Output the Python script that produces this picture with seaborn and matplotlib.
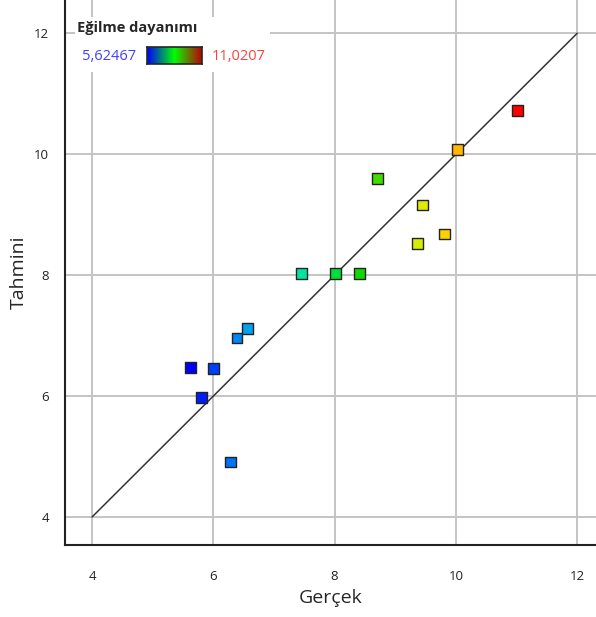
import numpy as np
import pandas as pd
import seaborn as sns
import matplotlib.pyplot as plt
from matplotlib.colors import LinearSegmentedColormap

gercek = [5.62, 6.00, 5.81, 6.28, 6.39, 6.56, 7.45, 8.01, 8.41, 8.70, 9.45, 9.36, 9.81, 10.02, 11.02]
tahmini = [6.48, 6.46, 5.98, 4.91, 6.96, 7.11, 8.03, 8.03, 8.03, 9.60, 9.16, 8.53, 8.68, 10.08, 10.73]
ticks = [4, 6, 8, 10, 12]
vmin, vmax = 5.62467, 11.0207

df = pd.DataFrame({'Gerçek': gercek, 'Tahmini': tahmini})

cmap = LinearSegmentedColormap.from_list('de', [
    (0.0, '#0000ff'), (0.17, '#00a0f0'), (0.34, '#00e6a0'), (0.5, '#00d800'),
    (0.6, '#60e000'), (0.7, '#dcee00'), (0.8, '#ffc800'), (1.0, '#ff0000')])

sns.set_style('white')
plt.rcParams['font.family'] = ['Open Sans', 'DejaVu Sans']

fig = plt.figure(figsize=(5.96, 6.17), dpi=100)
ax = fig.add_axes([65 / 596, 72 / 617, 531 / 596, 545 / 617])

ax.grid(True, color='#c4c4c4', linewidth=1.4)
ax.set_axisbelow(True)
ax.plot([4, 12], [4, 12], color='#333333', linewidth=1.1, zorder=2)
sns.scatterplot(data=df, x='Gerçek', y='Tahmini', hue='Gerçek', palette=cmap,
                hue_norm=(vmin, vmax), marker='s', s=62, edgecolor='#222222',
                linewidth=1, legend=False, ax=ax, zorder=3)

ax.set_xlim(3.554, 12.31)
ax.set_ylim(3.537, 12.55)
ax.set_xticks(ticks)
ax.set_yticks(ticks)
ax.tick_params(direction='out', length=8, width=1.2, labelsize=9.5, colors='#222222')
ax.tick_params(axis='x', pad=10)
for side in ['top', 'right']:
    ax.spines[side].set_visible(False)
for side in ['left', 'bottom']:
    ax.spines[side].set_linewidth(1.5)
    ax.spines[side].set_color('#222222')
ax.set_xlabel('Gerçek', fontsize=14)
ax.set_ylabel('Tahmini', fontsize=14)

# colour legend box
box = fig.add_axes([75 / 596, 1 - 72 / 617, 195 / 596, 55 / 617])
box.set_facecolor('white')
box.set_xticks([])
box.set_yticks([])
for sp in box.spines.values():
    sp.set_visible(False)
box.set_zorder(5)
fig.text(77 / 596, 1 - 28 / 617, 'Eğilme dayanımı', fontsize=10.5, fontweight='bold',
         va='center', ha='left', zorder=6)
fig.text(82 / 596, 1 - 56 / 617, '5,62467', fontsize=10.5, color='#4040ff',
         va='center', ha='left', zorder=6)
fig.text(212 / 596, 1 - 56 / 617, '11,0207', fontsize=10.5, color='#ff4040',
         va='center', ha='left', zorder=6)
grad = fig.add_axes([147 / 596, 1 - 64 / 617, 55 / 596, 17 / 617])
grad.imshow(np.linspace(0, 1, 100).reshape(1, -1),
            cmap=LinearSegmentedColormap.from_list('lg', ['#0000ff', '#00ff00', '#c00000']),
            aspect='auto')
grad.set_xticks([])
grad.set_yticks([])
for sp in grad.spines.values():
    sp.set_linewidth(1.2)
grad.set_zorder(7)

fig.savefig('out.png', dpi=100)
